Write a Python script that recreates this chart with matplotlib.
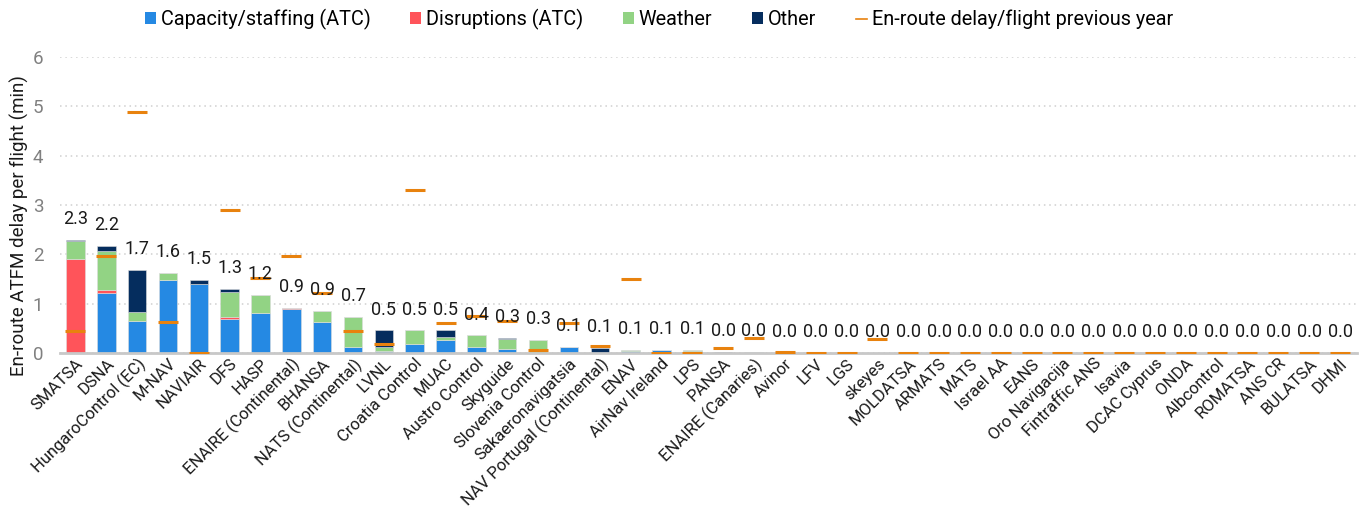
import matplotlib.pyplot as plt
import numpy as np
from matplotlib.lines import Line2D
from matplotlib.patches import Patch

plt.rcParams["font.family"] = ["Roboto", "DejaVu Sans"]

# ─── Data ─────────────────────────────────────────────────────────────────────
ansps = [
    "SMATSA", "DSNA", "HungaroControl (EC)", "M-NAV", "NAVIAIR", "DFS", "HASP",
    "ENAIRE (Continental)", "BHANSA", "NATS (Continental)", "LVNL",
    "Croatia Control", "MUAC", "Austro Control", "Skyguide", "Slovenia Control",
    "Sakaeronavigatsia", "NAV Portugal (Continental)", "ENAV", "AirNav Ireland",
    "LPS", "PANSA", "ENAIRE (Canaries)", "Avinor", "LFV", "LGS", "skeyes",
    "MOLDATSA", "ARMATS", "MATS", "Israel AA", "EANS", "Oro Navigacija",
    "Fintraffic ANS", "Isavia", "DCAC Cyprus", "ONDA", "Albcontrol", "ROMATSA",
    "ANS CR", "BULATSA", "DHMI",
]
n_zero = 19  # ANSPs from Avinor onwards have no delay

capacity = [0.00, 1.22, 0.65, 1.48, 1.40, 0.70, 0.81, 0.89, 0.64, 0.13, 0.05,
            0.18, 0.26, 0.12, 0.08, 0.00, 0.12, 0.00, 0.04, 0.07, 0.04, 0.00,
            0.03] + [0.0] * n_zero
disruptions = [1.90, 0.05, 0.00, 0.00, 0.00, 0.04, 0.00, 0.03, 0.00, 0.00, 0.00,
               0.00, 0.00, 0.00, 0.01, 0.00, 0.00, 0.00, 0.00, 0.00, 0.00, 0.00,
               0.00] + [0.0] * n_zero
weather = [0.37, 0.80, 0.18, 0.14, 0.00, 0.50, 0.37, 0.00, 0.22, 0.60, 0.08,
           0.28, 0.07, 0.24, 0.19, 0.26, 0.00, 0.00, 0.02, 0.00, 0.02, 0.00,
           0.00] + [0.0] * n_zero
other = [0.02, 0.11, 0.85, 0.00, 0.09, 0.06, 0.00, 0.00, 0.00, 0.00, 0.33,
         0.00, 0.13, 0.00, 0.02, 0.00, 0.00, 0.10, 0.00, 0.00, 0.00, 0.03,
         0.00] + [0.0] * n_zero
prev_year = [0.45, 1.97, 4.88, 0.64, 0.00, 2.90, 1.52, 1.97, 1.21, 0.44, 0.18,
             3.31, 0.62, 0.75, 0.65, 0.06, 0.60, 0.15, 1.51, 0.00, 0.00, 0.11,
             0.31, 0.02, 0.00, 0.00, 0.29] + [0.0] * 15

# ─── Style ────────────────────────────────────────────────────────────────────
C_CAP = "#2589E3"
C_DIS = "#FF545A"
C_WX = "#92D384"
C_OTH = "#052D5E"
C_PREV = "#E8820E"

x = np.arange(len(ansps))
comps = [
    (capacity, C_CAP, "Capacity/staffing (ATC)"),
    (disruptions, C_DIS, "Disruptions (ATC)"),
    (weather, C_WX, "Weather"),
    (other, C_OTH, "Other"),
]

fig = plt.figure(figsize=(13.7, 5.11), dpi=100)
ax = fig.add_axes([0.0438, 0.309, 0.9467, 0.5795])

bottom = np.zeros(len(ansps))
for vals, col, lab in comps:
    vals = np.array(vals)
    ax.bar(x, vals, width=0.6, bottom=bottom, color=col,
           edgecolor="#DDDDDD", linewidth=0.4, zorder=2)
    bottom += vals

# previous year markers
ax.plot(x, prev_year, linestyle="none", marker="_", markersize=15,
        markeredgewidth=2.2, color=C_PREV, zorder=4)

# total labels
for xi, tot in zip(x, bottom):
    ax.annotate(f"{tot:.1f}", (xi, tot), xytext=(0, 8.5),
                textcoords="offset points", ha="center", va="bottom",
                fontsize=13, color="#1a1a1a", zorder=5)

ax.set_xlim(-0.5, len(ansps) - 0.45)
ax.set_ylim(0, 6)
ax.set_yticks(range(0, 7))
ax.grid(axis="y", linestyle=(0, (1, 2.5)), color="#CFCFCF", linewidth=1.1, zorder=0)
ax.set_axisbelow(True)
for s in ["top", "right", "left"]:
    ax.spines[s].set_visible(False)
ax.spines["bottom"].set_color("#C8C8C8")
ax.spines["bottom"].set_linewidth(2)
ax.spines["bottom"].set_zorder(3)

ax.tick_params(axis="y", length=0, labelsize=13.5, labelcolor="#808080", pad=12)
ax.tick_params(axis="x", length=0, pad=2)
ax.set_xticks(x)
ax.set_xticklabels(ansps, rotation=45, ha="right", rotation_mode="anchor",
                   fontsize=12, color="#1a1a1a")
ax.set_ylabel("En-route ATFM delay per flight (min)", fontsize=13.5,
              color="#1a1a1a")
ax.yaxis.set_label_coords(-0.024, 0.43)

handles = [Patch(facecolor=c, edgecolor="none", label=l) for _, c, l in comps]
handles.append(Line2D([0], [0], color=C_PREV, lw=1.2,
                      label="En-route delay/flight previous year"))
fig.legend(handles=handles, loc="center", bbox_to_anchor=(0.481, 0.962), ncol=5,
           frameon=False, fontsize=14.3, handlelength=0.55, handleheight=0.55,
           handletextpad=0.25, columnspacing=2.0)

fig.savefig("out.png", dpi=100)
